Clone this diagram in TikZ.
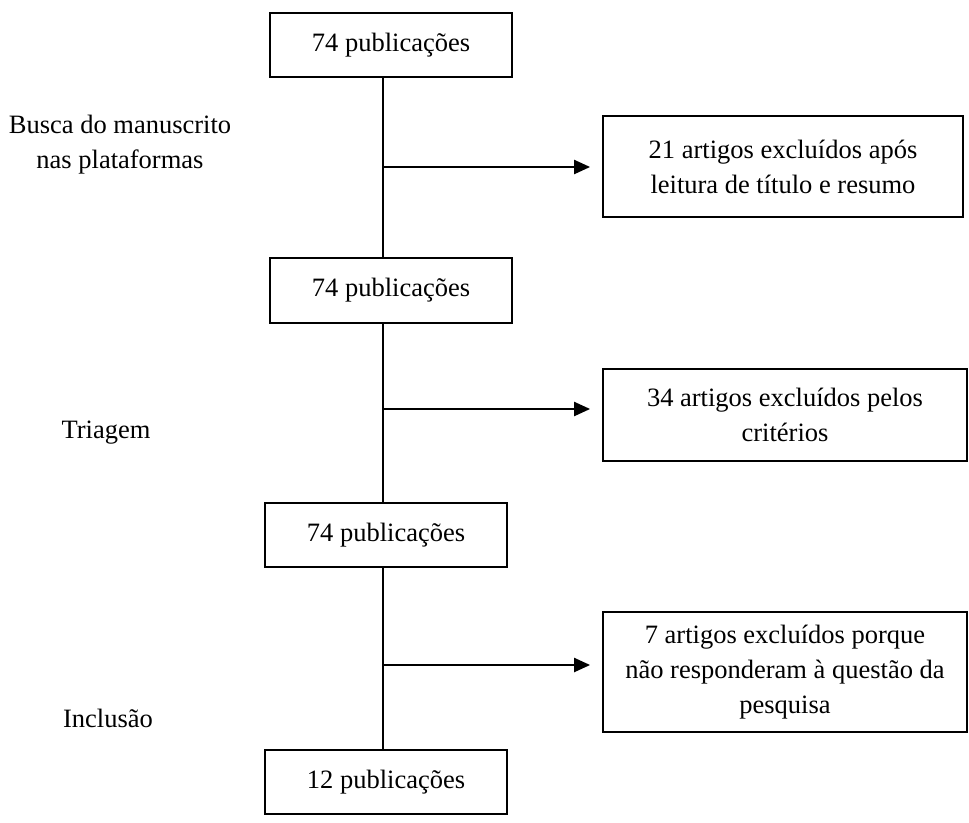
\documentclass[tikz,border=0pt]{standalone}
\usepackage{fontspec}
\setmainfont{Liberation Serif}
\usetikzlibrary{arrows.meta}
\begin{document}
\begin{tikzpicture}[x=1pt,y=-1pt,
  every node/.style={font=\fontsize{26.5}{35}\selectfont, inner sep=0pt},
  pubbox/.style={draw, line width=1.8pt, minimum width=242pt, minimum height=64pt},
  exbox/.style={draw, line width=1.8pt, align=center},
  spineline/.style={line width=1.3pt},
  arr/.style={line width=2.2pt, -{Triangle[length=16pt,width=14pt]}, shorten >=12pt},
  lbl/.style={align=center}]
\useasboundingbox (0,0) rectangle (969,822);
\coordinate (spine) at (383,0);
% main column
\node[pubbox] (b1) at (391,45) {74 publicações};
\node[pubbox, minimum height=65pt] (b2) at (391,290.5) {74 publicações};
\node[pubbox] (b3) at (386,535) {74 publicações};
\node[pubbox] (b4) at (386,782) {12 publicações};
% exclusion boxes
\node[exbox, minimum width=360pt, minimum height=101pt] (r1) at (783,166.5) {21 artigos excluídos após\\leitura de título e resumo};
\node[exbox, minimum width=364pt, minimum height=92pt] (r2) at (785,415) {34 artigos excluídos pelos\\critérios};
\node[exbox, minimum width=364pt, minimum height=120pt] (r3) at (785,672) {7 artigos excluídos porque\\não responderam à questão da\\pesquisa};
% side labels
\node[lbl] (l1) at (120,145) {Busca do manuscrito\\nas plataformas};
\node[anchor=base] (l2) at (106,438) {Triagem};
\node[anchor=base] (l3) at (108,727) {Inclusão};
% spine
\draw[spineline] (b1.south -| spine) -- (b2.north -| spine);
\draw[spineline] (b2.south -| spine) -- (b3.north -| spine);
\draw[spineline] (b3.south -| spine) -- (b4.north -| spine);
% branch points
\coordinate (s1) at (383,167);
\coordinate (s2) at (383,409);
\coordinate (s3) at (384,665);
\draw[arr] (s1) -- (s1 -| r1.west);
\draw[arr] (s2) -- (s2 -| r2.west);
\draw[arr] (s3) -- (s3 -| r3.west);
\end{tikzpicture}
\end{document}
